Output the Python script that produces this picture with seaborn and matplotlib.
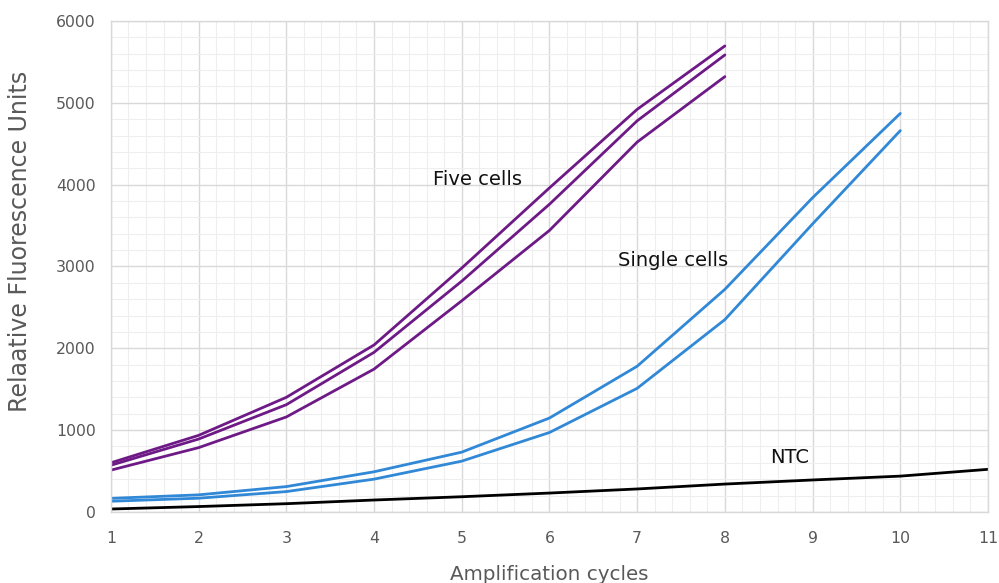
import matplotlib
matplotlib.use("Agg")
import matplotlib.pyplot as plt
from matplotlib.ticker import AutoMinorLocator, MultipleLocator
import seaborn as sns

# values
cycles_five = [1, 2, 3, 4, 5, 6, 7, 8]
five_a = [600, 935, 1400, 2040, 2980, 3960, 4920, 5695]
five_b = [570, 890, 1310, 1950, 2820, 3760, 4780, 5585]
five_c = [510, 785, 1160, 1745, 2580, 3440, 4520, 5320]

cycles_single = [1, 2, 3, 4, 5, 6, 7, 8, 9, 10]
single_a = [165, 208, 309, 490, 730, 1147, 1780, 2720, 3840, 4870]
single_b = [130, 167, 248, 400, 620, 970, 1510, 2350, 3520, 4660]

cycles_ntc = [1, 2, 3, 4, 5, 6, 7, 8, 9, 10, 11]
ntc = [35, 65, 100, 145, 185, 230, 280, 340, 390, 437, 520]

purple = "#6e1a86"
blue = "#3088d6"

sns.set_style("white")
plt.rcParams["font.family"] = ["DejaVu Sans"]

fig, ax = plt.subplots(figsize=(9.99, 5.83), dpi=100)
fig.subplots_adjust(left=0.111, right=0.989, top=0.964, bottom=0.122)

for ys in (five_a, five_b, five_c):
    sns.lineplot(x=cycles_five, y=ys, color=purple, linewidth=2.0, ax=ax)
for ys in (single_a, single_b):
    sns.lineplot(x=cycles_single, y=ys, color=blue, linewidth=2.0, ax=ax)
sns.lineplot(x=cycles_ntc, y=ntc, color="black", linewidth=2.0, ax=ax)

ax.set_xlim(1, 11)
ax.set_ylim(0, 6000)
ax.xaxis.set_major_locator(MultipleLocator(1))
ax.yaxis.set_major_locator(MultipleLocator(1000))
ax.xaxis.set_minor_locator(AutoMinorLocator(5))
ax.yaxis.set_minor_locator(AutoMinorLocator(5))
ax.grid(which="major", color="#d9d9d9", linewidth=1.0)
ax.grid(which="minor", color="#eeeeee", linewidth=0.8)
ax.set_axisbelow(True)
for sp in ax.spines.values():
    sp.set_color("#d9d9d9")
    sp.set_linewidth(1.0)

ax.tick_params(which="both", length=0, labelsize=11.3, labelcolor="#595959")
ax.tick_params(axis="x", pad=14)
ax.tick_params(axis="y", pad=11)

ax.set_xlabel("Amplification cycles", fontsize=14.3, color="#595959")
ax.xaxis.set_label_coords(0.5, -0.108)
ax.xaxis.label.set_va("top")
ax.set_ylabel("Relaative Fluorescence Units", fontsize=17, color="#595959")
ax.yaxis.label.set_va("center")
ax.yaxis.set_label_coords(-0.104, 0.552)

ax.text(5.18, 4059, "Five cells", fontsize=14, color="#111111", ha="center", va="center")
ax.text(7.41, 3068, "Single cells", fontsize=14, color="#111111", ha="center", va="center")
ax.text(8.74, 660, "NTC", fontsize=14, color="#111111", ha="center", va="center")

fig.savefig("out.png", dpi=100)
